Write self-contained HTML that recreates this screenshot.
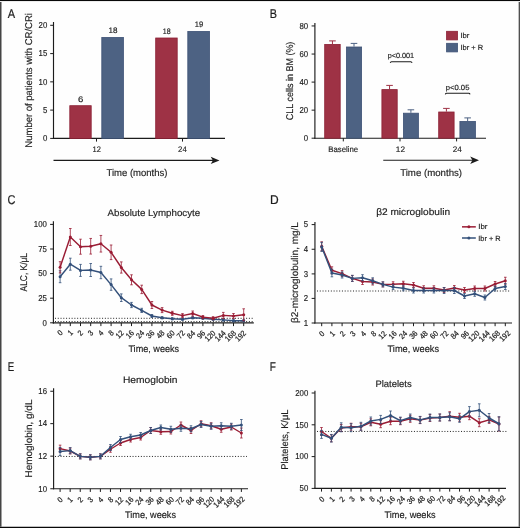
<!DOCTYPE html>
<html><head><meta charset="utf-8"><style>
html,body{margin:0;padding:0;background:#fff;}
body{width:520px;height:528px;overflow:hidden;}
svg{display:block;will-change:transform;}
svg text{text-rendering:geometricPrecision;font-family:"Liberation Sans",sans-serif;fill:#1e1e1e;stroke:#1e1e1e;stroke-width:0.16px;}
</style></head><body>
<svg width="520" height="528" viewBox="0 0 520 528">
<rect x="0" y="0" width="520" height="528" fill="#fefefe"/>
<text x="7.78" y="17.70" font-size="12.7" textLength="7.34" lengthAdjust="spacingAndGlyphs" style="stroke-width:0.22px">A</text>
<line x1="53.50" y1="22.00" x2="53.50" y2="139.00" stroke="#1c1c1c" stroke-width="1.15"/>
<line x1="50.20" y1="25.30" x2="53.50" y2="25.30" stroke="#1c1c1c" stroke-width="1.0"/>
<text x="47.30" y="28.10" font-size="8.6" text-anchor="end" textLength="8.70" lengthAdjust="spacingAndGlyphs">20</text>
<line x1="50.20" y1="53.60" x2="53.50" y2="53.60" stroke="#1c1c1c" stroke-width="1.0"/>
<text x="47.30" y="56.40" font-size="8.6" text-anchor="end" textLength="8.70" lengthAdjust="spacingAndGlyphs">15</text>
<line x1="50.20" y1="81.85" x2="53.50" y2="81.85" stroke="#1c1c1c" stroke-width="1.0"/>
<text x="47.30" y="84.65" font-size="8.6" text-anchor="end" textLength="8.70" lengthAdjust="spacingAndGlyphs">10</text>
<line x1="50.20" y1="110.10" x2="53.50" y2="110.10" stroke="#1c1c1c" stroke-width="1.0"/>
<text x="47.30" y="112.90" font-size="8.6" text-anchor="end" textLength="4.35" lengthAdjust="spacingAndGlyphs">5</text>
<line x1="50.20" y1="138.40" x2="53.50" y2="138.40" stroke="#1c1c1c" stroke-width="1.0"/>
<text x="47.30" y="141.20" font-size="8.6" text-anchor="end" textLength="4.35" lengthAdjust="spacingAndGlyphs">0</text>
<line x1="52.90" y1="138.40" x2="225.00" y2="138.40" stroke="#1c1c1c" stroke-width="1.15"/>
<line x1="96.50" y1="138.40" x2="96.50" y2="141.60" stroke="#1c1c1c" stroke-width="1.0"/>
<line x1="182.50" y1="138.40" x2="182.50" y2="141.60" stroke="#1c1c1c" stroke-width="1.0"/>
<rect x="69.80" y="105.70" width="21.40" height="32.70" fill="#9e3245" stroke="#8c2035" stroke-width="0.8"/>
<rect x="101.80" y="37.40" width="21.60" height="101.00" fill="#4d6283" stroke="#3e5276" stroke-width="0.8"/>
<rect x="155.70" y="38.00" width="21.50" height="100.40" fill="#9e3245" stroke="#8c2035" stroke-width="0.8"/>
<rect x="187.80" y="31.40" width="21.70" height="107.00" fill="#4d6283" stroke="#3e5276" stroke-width="0.8"/>
<text x="77.92" y="101.80" font-size="8" textLength="5.30" lengthAdjust="spacingAndGlyphs">6</text>
<text x="108.59" y="33.20" font-size="8" textLength="8.96" lengthAdjust="spacingAndGlyphs">18</text>
<text x="162.76" y="34.00" font-size="8" textLength="7.84" lengthAdjust="spacingAndGlyphs">18</text>
<text x="194.77" y="27.30" font-size="8" textLength="8.44" lengthAdjust="spacingAndGlyphs">19</text>
<text x="92.53" y="151.90" font-size="8" textLength="8.35" lengthAdjust="spacingAndGlyphs">12</text>
<text x="178.11" y="151.90" font-size="8" textLength="8.62" lengthAdjust="spacingAndGlyphs">24</text>
<line x1="53.50" y1="160.40" x2="214.50" y2="160.40" stroke="#1c1c1c" stroke-width="1.1"/>
<path d="M210.70,156.70 L219.50,160.40 L210.70,164.10 L212.90,160.40 Z" fill="#1c1c1c"/>
<text x="106.49" y="175.70" font-size="9.8" textLength="61.00" lengthAdjust="spacingAndGlyphs">Time (months)</text>
<text transform="translate(32.10,147.68) rotate(-90)" x="0" y="0" font-size="9.8" textLength="134.62" lengthAdjust="spacingAndGlyphs">Number of patients with CR/CRi</text>
<text x="269.76" y="17.60" font-size="12.7" textLength="7.21" lengthAdjust="spacingAndGlyphs" style="stroke-width:0.22px">B</text>
<line x1="314.90" y1="22.90" x2="314.90" y2="138.80" stroke="#1c1c1c" stroke-width="1.15"/>
<line x1="311.60" y1="25.95" x2="314.90" y2="25.95" stroke="#1c1c1c" stroke-width="1.0"/>
<text x="308.20" y="28.75" font-size="8.6" text-anchor="end" textLength="8.70" lengthAdjust="spacingAndGlyphs">80</text>
<line x1="311.60" y1="54.05" x2="314.90" y2="54.05" stroke="#1c1c1c" stroke-width="1.0"/>
<text x="308.20" y="56.85" font-size="8.6" text-anchor="end" textLength="8.70" lengthAdjust="spacingAndGlyphs">60</text>
<line x1="311.60" y1="82.10" x2="314.90" y2="82.10" stroke="#1c1c1c" stroke-width="1.0"/>
<text x="308.20" y="84.90" font-size="8.6" text-anchor="end" textLength="8.70" lengthAdjust="spacingAndGlyphs">40</text>
<line x1="311.60" y1="110.15" x2="314.90" y2="110.15" stroke="#1c1c1c" stroke-width="1.0"/>
<text x="308.20" y="112.95" font-size="8.6" text-anchor="end" textLength="8.70" lengthAdjust="spacingAndGlyphs">20</text>
<line x1="311.60" y1="138.20" x2="314.90" y2="138.20" stroke="#1c1c1c" stroke-width="1.0"/>
<text x="308.20" y="141.00" font-size="8.6" text-anchor="end" textLength="4.35" lengthAdjust="spacingAndGlyphs">0</text>
<line x1="314.30" y1="138.20" x2="486.00" y2="138.20" stroke="#1c1c1c" stroke-width="1.15"/>
<line x1="343.30" y1="138.20" x2="343.30" y2="141.40" stroke="#1c1c1c" stroke-width="1.0"/>
<line x1="400.00" y1="138.20" x2="400.00" y2="141.40" stroke="#1c1c1c" stroke-width="1.0"/>
<line x1="456.60" y1="138.20" x2="456.60" y2="141.40" stroke="#1c1c1c" stroke-width="1.0"/>
<line x1="332.45" y1="40.90" x2="332.45" y2="44.00" stroke="#9e3245" stroke-width="1.0"/>
<line x1="329.15" y1="40.90" x2="335.75" y2="40.90" stroke="#9e3245" stroke-width="1.0"/>
<rect x="324.70" y="44.40" width="15.50" height="93.80" fill="#9e3245" stroke="#8c2035" stroke-width="0.8"/>
<line x1="354.00" y1="43.40" x2="354.00" y2="46.60" stroke="#4d6283" stroke-width="1.0"/>
<line x1="350.70" y1="43.40" x2="357.30" y2="43.40" stroke="#4d6283" stroke-width="1.0"/>
<rect x="346.40" y="47.00" width="15.20" height="91.20" fill="#4d6283" stroke="#3e5276" stroke-width="0.8"/>
<line x1="389.55" y1="85.40" x2="389.55" y2="89.20" stroke="#9e3245" stroke-width="1.0"/>
<line x1="386.25" y1="85.40" x2="392.85" y2="85.40" stroke="#9e3245" stroke-width="1.0"/>
<rect x="381.90" y="89.60" width="15.30" height="48.60" fill="#9e3245" stroke="#8c2035" stroke-width="0.8"/>
<line x1="410.90" y1="109.80" x2="410.90" y2="112.80" stroke="#4d6283" stroke-width="1.0"/>
<line x1="407.60" y1="109.80" x2="414.20" y2="109.80" stroke="#4d6283" stroke-width="1.0"/>
<rect x="403.40" y="113.20" width="15.00" height="25.00" fill="#4d6283" stroke="#3e5276" stroke-width="0.8"/>
<line x1="446.40" y1="108.40" x2="446.40" y2="111.60" stroke="#9e3245" stroke-width="1.0"/>
<line x1="443.10" y1="108.40" x2="449.70" y2="108.40" stroke="#9e3245" stroke-width="1.0"/>
<rect x="438.70" y="112.00" width="15.40" height="26.20" fill="#9e3245" stroke="#8c2035" stroke-width="0.8"/>
<line x1="467.65" y1="117.90" x2="467.65" y2="121.00" stroke="#4d6283" stroke-width="1.0"/>
<line x1="464.35" y1="117.90" x2="470.95" y2="117.90" stroke="#4d6283" stroke-width="1.0"/>
<rect x="459.90" y="121.40" width="15.50" height="16.80" fill="#4d6283" stroke="#3e5276" stroke-width="0.8"/>
<text x="328.24" y="152.30" font-size="8" textLength="29.83" lengthAdjust="spacingAndGlyphs">Baseline</text>
<text x="395.82" y="152.20" font-size="8" textLength="9.14" lengthAdjust="spacingAndGlyphs">12</text>
<text x="452.69" y="152.20" font-size="8" textLength="9.05" lengthAdjust="spacingAndGlyphs">24</text>
<line x1="383.25" y1="160.20" x2="474.00" y2="160.20" stroke="#1c1c1c" stroke-width="1.1"/>
<path d="M470.20,156.50 L479.00,160.20 L470.20,163.90 L472.40,160.20 Z" fill="#1c1c1c"/>
<text x="400.18" y="175.60" font-size="9.8" textLength="61.91" lengthAdjust="spacingAndGlyphs">Time (months)</text>
<text transform="translate(293.40,120.15) rotate(-90)" x="0" y="0" font-size="9.8" textLength="78.51" lengthAdjust="spacingAndGlyphs">CLL cells in BM (%)</text>
<rect x="446.60" y="31.30" width="10.90" height="8.60" fill="#9e3245" stroke="#8c2035" stroke-width="0.8"/>
<rect x="446.60" y="43.30" width="10.90" height="8.60" fill="#4d6283" stroke="#3e5276" stroke-width="0.8"/>
<text x="460.49" y="38.00" font-size="7.4" textLength="8.93" lengthAdjust="spacingAndGlyphs">Ibr</text>
<text x="460.51" y="49.85" font-size="7.4" textLength="22.64" lengthAdjust="spacingAndGlyphs">Ibr + R</text>
<text x="387.63" y="58.20" font-size="7.4" textLength="26.52" lengthAdjust="spacingAndGlyphs">p&lt;0.001</text>
<path d="M390.3,62.8 Q390.5,61.7 391.5,61.7 L410.8,61.7 Q411.8,61.7 412,62.8" fill="none" stroke="#1c1c1c" stroke-width="1.1"/>
<text x="445.70" y="89.60" font-size="7.4" textLength="23.72" lengthAdjust="spacingAndGlyphs">p&lt;0.05</text>
<path d="M445.4,94.3 Q445.6,93.3 446.6,93.3 L468.8,93.3 Q469.8,93.3 470,94.3" fill="none" stroke="#1c1c1c" stroke-width="1.1"/>
<text x="7.54" y="203.85" font-size="12.7" textLength="7.98" lengthAdjust="spacingAndGlyphs" style="stroke-width:0.22px">C</text>
<text x="107.48" y="215.50" font-size="9.5" textLength="92.75" lengthAdjust="spacingAndGlyphs">Absolute Lymphocyte</text>
<line x1="53.40" y1="221.20" x2="53.40" y2="323.40" stroke="#1c1c1c" stroke-width="1.15"/>
<line x1="50.10" y1="224.40" x2="53.40" y2="224.40" stroke="#1c1c1c" stroke-width="1.0"/>
<text x="46.90" y="227.20" font-size="8.6" text-anchor="end" textLength="13.06" lengthAdjust="spacingAndGlyphs">100</text>
<line x1="50.10" y1="249.00" x2="53.40" y2="249.00" stroke="#1c1c1c" stroke-width="1.0"/>
<text x="46.90" y="251.80" font-size="8.6" text-anchor="end" textLength="8.70" lengthAdjust="spacingAndGlyphs">75</text>
<line x1="50.10" y1="273.60" x2="53.40" y2="273.60" stroke="#1c1c1c" stroke-width="1.0"/>
<text x="46.90" y="276.40" font-size="8.6" text-anchor="end" textLength="8.70" lengthAdjust="spacingAndGlyphs">50</text>
<line x1="50.10" y1="298.20" x2="53.40" y2="298.20" stroke="#1c1c1c" stroke-width="1.0"/>
<text x="46.90" y="301.00" font-size="8.6" text-anchor="end" textLength="8.70" lengthAdjust="spacingAndGlyphs">25</text>
<line x1="50.10" y1="322.80" x2="53.40" y2="322.80" stroke="#1c1c1c" stroke-width="1.0"/>
<text x="46.90" y="325.60" font-size="8.6" text-anchor="end" textLength="4.35" lengthAdjust="spacingAndGlyphs">0</text>
<line x1="55" y1="318.3" x2="253" y2="318.3" stroke="#222" stroke-width="1.0" stroke-dasharray="1,1.77"/>
<line x1="55" y1="321.6" x2="253" y2="321.6" stroke="#222" stroke-width="1.0" stroke-dasharray="1,1.77"/>
<line x1="52.80" y1="322.90" x2="253.80" y2="322.90" stroke="#1c1c1c" stroke-width="1.15"/>
<line x1="60.10" y1="322.90" x2="60.10" y2="326.10" stroke="#1c1c1c" stroke-width="1.0"/>
<line x1="70.30" y1="322.90" x2="70.30" y2="326.10" stroke="#1c1c1c" stroke-width="1.0"/>
<line x1="80.50" y1="322.90" x2="80.50" y2="326.10" stroke="#1c1c1c" stroke-width="1.0"/>
<line x1="90.70" y1="322.90" x2="90.70" y2="326.10" stroke="#1c1c1c" stroke-width="1.0"/>
<line x1="100.90" y1="322.90" x2="100.90" y2="326.10" stroke="#1c1c1c" stroke-width="1.0"/>
<line x1="111.10" y1="322.90" x2="111.10" y2="326.10" stroke="#1c1c1c" stroke-width="1.0"/>
<line x1="121.30" y1="322.90" x2="121.30" y2="326.10" stroke="#1c1c1c" stroke-width="1.0"/>
<line x1="131.50" y1="322.90" x2="131.50" y2="326.10" stroke="#1c1c1c" stroke-width="1.0"/>
<line x1="141.70" y1="322.90" x2="141.70" y2="326.10" stroke="#1c1c1c" stroke-width="1.0"/>
<line x1="151.90" y1="322.90" x2="151.90" y2="326.10" stroke="#1c1c1c" stroke-width="1.0"/>
<line x1="162.10" y1="322.90" x2="162.10" y2="326.10" stroke="#1c1c1c" stroke-width="1.0"/>
<line x1="172.30" y1="322.90" x2="172.30" y2="326.10" stroke="#1c1c1c" stroke-width="1.0"/>
<line x1="182.50" y1="322.90" x2="182.50" y2="326.10" stroke="#1c1c1c" stroke-width="1.0"/>
<line x1="192.70" y1="322.90" x2="192.70" y2="326.10" stroke="#1c1c1c" stroke-width="1.0"/>
<line x1="202.90" y1="322.90" x2="202.90" y2="326.10" stroke="#1c1c1c" stroke-width="1.0"/>
<line x1="213.10" y1="322.90" x2="213.10" y2="326.10" stroke="#1c1c1c" stroke-width="1.0"/>
<line x1="223.30" y1="322.90" x2="223.30" y2="326.10" stroke="#1c1c1c" stroke-width="1.0"/>
<line x1="233.50" y1="322.90" x2="233.50" y2="326.10" stroke="#1c1c1c" stroke-width="1.0"/>
<line x1="243.70" y1="322.90" x2="243.70" y2="326.10" stroke="#1c1c1c" stroke-width="1.0"/>
<path d="M60.10,270.70V282.70M58.80,270.70h2.6M58.80,282.70h2.6" stroke="#33507a" stroke-width="0.8" fill="none"/>
<path d="M70.30,258.20V270.20M69.00,258.20h2.6M69.00,270.20h2.6" stroke="#33507a" stroke-width="0.8" fill="none"/>
<path d="M80.50,264.40V276.40M79.20,264.40h2.6M79.20,276.40h2.6" stroke="#33507a" stroke-width="0.8" fill="none"/>
<path d="M90.70,263.50V276.50M89.40,263.50h2.6M89.40,276.50h2.6" stroke="#33507a" stroke-width="0.8" fill="none"/>
<path d="M100.90,266.30V278.70M99.60,266.30h2.6M99.60,278.70h2.6" stroke="#33507a" stroke-width="0.8" fill="none"/>
<path d="M111.10,278.90V290.30M109.80,278.90h2.6M109.80,290.30h2.6" stroke="#33507a" stroke-width="0.8" fill="none"/>
<path d="M121.30,293.90V301.50M120.00,293.90h2.6M120.00,301.50h2.6" stroke="#33507a" stroke-width="0.8" fill="none"/>
<path d="M131.50,302.40V307.60M130.20,302.40h2.6M130.20,307.60h2.6" stroke="#33507a" stroke-width="0.8" fill="none"/>
<path d="M141.70,308.30V312.50M140.40,308.30h2.6M140.40,312.50h2.6" stroke="#33507a" stroke-width="0.8" fill="none"/>
<path d="M151.90,314.50V317.50M150.60,314.50h2.6M150.60,317.50h2.6" stroke="#33507a" stroke-width="0.8" fill="none"/>
<path d="M162.10,316.75V318.75M160.80,316.75h2.6M160.80,318.75h2.6" stroke="#33507a" stroke-width="0.8" fill="none"/>
<path d="M172.30,317.80V319.80M171.00,317.80h2.6M171.00,319.80h2.6" stroke="#33507a" stroke-width="0.8" fill="none"/>
<path d="M182.50,318.20V320.20M181.20,318.20h2.6M181.20,320.20h2.6" stroke="#33507a" stroke-width="0.8" fill="none"/>
<path d="M192.70,316.75V318.75M191.40,316.75h2.6M191.40,318.75h2.6" stroke="#33507a" stroke-width="0.8" fill="none"/>
<path d="M202.90,317.20V319.20M201.60,317.20h2.6M201.60,319.20h2.6" stroke="#33507a" stroke-width="0.8" fill="none"/>
<path d="M213.10,318.20V320.20M211.80,318.20h2.6M211.80,320.20h2.6" stroke="#33507a" stroke-width="0.8" fill="none"/>
<path d="M223.30,318.90V320.90M222.00,318.90h2.6M222.00,320.90h2.6" stroke="#33507a" stroke-width="0.8" fill="none"/>
<path d="M233.50,319.70V321.70M232.20,319.70h2.6M232.20,321.70h2.6" stroke="#33507a" stroke-width="0.8" fill="none"/>
<path d="M243.70,319.70V321.70M242.40,319.70h2.6M242.40,321.70h2.6" stroke="#33507a" stroke-width="0.8" fill="none"/>
<polyline points="60.10,276.70 70.30,264.20 80.50,270.40 90.70,270.00 100.90,272.50 111.10,284.60 121.30,297.70 131.50,305.00 141.70,310.40 151.90,316.00 162.10,317.75 172.30,318.80 182.50,319.20 192.70,317.75 202.90,318.20 213.10,319.20 223.30,319.90 233.50,320.70 243.70,320.70" fill="none" stroke="#33507a" stroke-width="1.45" stroke-linejoin="round"/>
<circle cx="60.10" cy="276.70" r="1.5" fill="#33507a"/>
<circle cx="70.30" cy="264.20" r="1.5" fill="#33507a"/>
<circle cx="80.50" cy="270.40" r="1.5" fill="#33507a"/>
<circle cx="90.70" cy="270.00" r="1.5" fill="#33507a"/>
<circle cx="100.90" cy="272.50" r="1.5" fill="#33507a"/>
<circle cx="111.10" cy="284.60" r="1.5" fill="#33507a"/>
<circle cx="121.30" cy="297.70" r="1.5" fill="#33507a"/>
<circle cx="131.50" cy="305.00" r="1.5" fill="#33507a"/>
<circle cx="141.70" cy="310.40" r="1.5" fill="#33507a"/>
<circle cx="151.90" cy="316.00" r="1.5" fill="#33507a"/>
<circle cx="162.10" cy="317.75" r="1.5" fill="#33507a"/>
<circle cx="172.30" cy="318.80" r="1.5" fill="#33507a"/>
<circle cx="182.50" cy="319.20" r="1.5" fill="#33507a"/>
<circle cx="192.70" cy="317.75" r="1.5" fill="#33507a"/>
<circle cx="202.90" cy="318.20" r="1.5" fill="#33507a"/>
<circle cx="213.10" cy="319.20" r="1.5" fill="#33507a"/>
<circle cx="223.30" cy="319.90" r="1.5" fill="#33507a"/>
<circle cx="233.50" cy="320.70" r="1.5" fill="#33507a"/>
<circle cx="243.70" cy="320.70" r="1.5" fill="#33507a"/>
<path d="M60.10,261.70V272.90M58.80,261.70h2.6M58.80,272.90h2.6" stroke="#9a1c34" stroke-width="0.8" fill="none"/>
<path d="M70.30,228.50V245.50M69.00,228.50h2.6M69.00,245.50h2.6" stroke="#9a1c34" stroke-width="0.8" fill="none"/>
<path d="M80.50,239.20V254.20M79.20,239.20h2.6M79.20,254.20h2.6" stroke="#9a1c34" stroke-width="0.8" fill="none"/>
<path d="M90.70,238.45V254.05M89.40,238.45h2.6M89.40,254.05h2.6" stroke="#9a1c34" stroke-width="0.8" fill="none"/>
<path d="M100.90,235.45V252.05M99.60,235.45h2.6M99.60,252.05h2.6" stroke="#9a1c34" stroke-width="0.8" fill="none"/>
<path d="M111.10,245.00V259.60M109.80,245.00h2.6M109.80,259.60h2.6" stroke="#9a1c34" stroke-width="0.8" fill="none"/>
<path d="M121.30,261.90V273.10M120.00,261.90h2.6M120.00,273.10h2.6" stroke="#9a1c34" stroke-width="0.8" fill="none"/>
<path d="M131.50,274.80V284.80M130.20,274.80h2.6M130.20,284.80h2.6" stroke="#9a1c34" stroke-width="0.8" fill="none"/>
<path d="M141.70,285.20V293.60M140.40,285.20h2.6M140.40,293.60h2.6" stroke="#9a1c34" stroke-width="0.8" fill="none"/>
<path d="M151.90,301.50V308.50M150.60,301.50h2.6M150.60,308.50h2.6" stroke="#9a1c34" stroke-width="0.8" fill="none"/>
<path d="M162.10,307.60V312.60M160.80,307.60h2.6M160.80,312.60h2.6" stroke="#9a1c34" stroke-width="0.8" fill="none"/>
<path d="M172.30,311.30V315.30M171.00,311.30h2.6M171.00,315.30h2.6" stroke="#9a1c34" stroke-width="0.8" fill="none"/>
<path d="M182.50,313.60V317.60M181.20,313.60h2.6M181.20,317.60h2.6" stroke="#9a1c34" stroke-width="0.8" fill="none"/>
<path d="M192.70,311.00V316.00M191.40,311.00h2.6M191.40,316.00h2.6" stroke="#9a1c34" stroke-width="0.8" fill="none"/>
<path d="M202.90,315.60V318.60M201.60,315.60h2.6M201.60,318.60h2.6" stroke="#9a1c34" stroke-width="0.8" fill="none"/>
<path d="M213.10,316.70V319.70M211.80,316.70h2.6M211.80,319.70h2.6" stroke="#9a1c34" stroke-width="0.8" fill="none"/>
<path d="M223.30,312.40V318.40M222.00,312.40h2.6M222.00,318.40h2.6" stroke="#9a1c34" stroke-width="0.8" fill="none"/>
<path d="M233.50,313.50V318.50M232.20,313.50h2.6M232.20,318.50h2.6" stroke="#9a1c34" stroke-width="0.8" fill="none"/>
<path d="M243.70,308.80V320.80M242.40,308.80h2.6M242.40,320.80h2.6" stroke="#9a1c34" stroke-width="0.8" fill="none"/>
<polyline points="60.10,267.30 70.30,237.00 80.50,246.70 90.70,246.25 100.90,243.75 111.10,252.30 121.30,267.50 131.50,279.80 141.70,289.40 151.90,305.00 162.10,310.10 172.30,313.30 182.50,315.60 192.70,313.50 202.90,317.10 213.10,318.20 223.30,315.40 233.50,316.00 243.70,314.80" fill="none" stroke="#9a1c34" stroke-width="1.45" stroke-linejoin="round"/>
<circle cx="60.10" cy="267.30" r="1.5" fill="#9a1c34"/>
<circle cx="70.30" cy="237.00" r="1.5" fill="#9a1c34"/>
<circle cx="80.50" cy="246.70" r="1.5" fill="#9a1c34"/>
<circle cx="90.70" cy="246.25" r="1.5" fill="#9a1c34"/>
<circle cx="100.90" cy="243.75" r="1.5" fill="#9a1c34"/>
<circle cx="111.10" cy="252.30" r="1.5" fill="#9a1c34"/>
<circle cx="121.30" cy="267.50" r="1.5" fill="#9a1c34"/>
<circle cx="131.50" cy="279.80" r="1.5" fill="#9a1c34"/>
<circle cx="141.70" cy="289.40" r="1.5" fill="#9a1c34"/>
<circle cx="151.90" cy="305.00" r="1.5" fill="#9a1c34"/>
<circle cx="162.10" cy="310.10" r="1.5" fill="#9a1c34"/>
<circle cx="172.30" cy="313.30" r="1.5" fill="#9a1c34"/>
<circle cx="182.50" cy="315.60" r="1.5" fill="#9a1c34"/>
<circle cx="192.70" cy="313.50" r="1.5" fill="#9a1c34"/>
<circle cx="202.90" cy="317.10" r="1.5" fill="#9a1c34"/>
<circle cx="213.10" cy="318.20" r="1.5" fill="#9a1c34"/>
<circle cx="223.30" cy="315.40" r="1.5" fill="#9a1c34"/>
<circle cx="233.50" cy="316.00" r="1.5" fill="#9a1c34"/>
<circle cx="243.70" cy="314.80" r="1.5" fill="#9a1c34"/>
<text transform="translate(63.25,333.30) rotate(-45)" x="0" y="0" font-size="7.9" text-anchor="end" textLength="3.95" lengthAdjust="spacingAndGlyphs" style="stroke-width:0.2px">0</text>
<text transform="translate(73.44,333.32) rotate(-45)" x="0" y="0" font-size="7.9" text-anchor="end" textLength="3.95" lengthAdjust="spacingAndGlyphs" style="stroke-width:0.2px">1</text>
<text transform="translate(83.63,333.34) rotate(-45)" x="0" y="0" font-size="7.9" text-anchor="end" textLength="3.95" lengthAdjust="spacingAndGlyphs" style="stroke-width:0.2px">2</text>
<text transform="translate(93.82,333.37) rotate(-45)" x="0" y="0" font-size="7.9" text-anchor="end" textLength="3.95" lengthAdjust="spacingAndGlyphs" style="stroke-width:0.2px">3</text>
<text transform="translate(104.01,333.39) rotate(-45)" x="0" y="0" font-size="7.9" text-anchor="end" textLength="3.95" lengthAdjust="spacingAndGlyphs" style="stroke-width:0.2px">4</text>
<text transform="translate(114.19,333.41) rotate(-45)" x="0" y="0" font-size="7.9" text-anchor="end" textLength="3.95" lengthAdjust="spacingAndGlyphs" style="stroke-width:0.2px">8</text>
<text transform="translate(124.38,333.43) rotate(-45)" x="0" y="0" font-size="7.9" text-anchor="end" textLength="7.91" lengthAdjust="spacingAndGlyphs" style="stroke-width:0.2px">12</text>
<text transform="translate(134.57,333.45) rotate(-45)" x="0" y="0" font-size="7.9" text-anchor="end" textLength="7.91" lengthAdjust="spacingAndGlyphs" style="stroke-width:0.2px">16</text>
<text transform="translate(144.76,333.48) rotate(-45)" x="0" y="0" font-size="7.9" text-anchor="end" textLength="7.91" lengthAdjust="spacingAndGlyphs" style="stroke-width:0.2px">24</text>
<text transform="translate(154.95,333.50) rotate(-45)" x="0" y="0" font-size="7.9" text-anchor="end" textLength="7.91" lengthAdjust="spacingAndGlyphs" style="stroke-width:0.2px">36</text>
<text transform="translate(165.14,333.52) rotate(-45)" x="0" y="0" font-size="7.9" text-anchor="end" textLength="7.91" lengthAdjust="spacingAndGlyphs" style="stroke-width:0.2px">48</text>
<text transform="translate(175.33,333.54) rotate(-45)" x="0" y="0" font-size="7.9" text-anchor="end" textLength="7.91" lengthAdjust="spacingAndGlyphs" style="stroke-width:0.2px">60</text>
<text transform="translate(185.52,333.57) rotate(-45)" x="0" y="0" font-size="7.9" text-anchor="end" textLength="7.91" lengthAdjust="spacingAndGlyphs" style="stroke-width:0.2px">72</text>
<text transform="translate(195.71,333.59) rotate(-45)" x="0" y="0" font-size="7.9" text-anchor="end" textLength="7.91" lengthAdjust="spacingAndGlyphs" style="stroke-width:0.2px">84</text>
<text transform="translate(205.89,333.61) rotate(-45)" x="0" y="0" font-size="7.9" text-anchor="end" textLength="7.91" lengthAdjust="spacingAndGlyphs" style="stroke-width:0.2px">96</text>
<text transform="translate(216.08,333.63) rotate(-45)" x="0" y="0" font-size="7.9" text-anchor="end" textLength="11.86" lengthAdjust="spacingAndGlyphs" style="stroke-width:0.2px">120</text>
<text transform="translate(226.27,333.65) rotate(-45)" x="0" y="0" font-size="7.9" text-anchor="end" textLength="11.86" lengthAdjust="spacingAndGlyphs" style="stroke-width:0.2px">144</text>
<text transform="translate(236.46,333.68) rotate(-45)" x="0" y="0" font-size="7.9" text-anchor="end" textLength="11.86" lengthAdjust="spacingAndGlyphs" style="stroke-width:0.2px">168</text>
<text transform="translate(246.65,333.70) rotate(-45)" x="0" y="0" font-size="7.9" text-anchor="end" textLength="11.86" lengthAdjust="spacingAndGlyphs" style="stroke-width:0.2px">192</text>
<text x="128.40" y="352.10" font-size="9.6" textLength="50.73" lengthAdjust="spacingAndGlyphs">Time, weeks</text>
<text transform="translate(27.00,291.42) rotate(-90)" x="0" y="0" font-size="9.8" textLength="38.39" lengthAdjust="spacingAndGlyphs">ALC, K/μL</text>
<text x="269.92" y="203.70" font-size="12.7" textLength="8.66" lengthAdjust="spacingAndGlyphs" style="stroke-width:0.22px">D</text>
<text x="376.20" y="215.20" font-size="9.5" textLength="73.86" lengthAdjust="spacingAndGlyphs">β2 microglobulin</text>
<line x1="314.95" y1="222.00" x2="314.95" y2="323.60" stroke="#1c1c1c" stroke-width="1.15"/>
<line x1="311.65" y1="224.60" x2="314.95" y2="224.60" stroke="#1c1c1c" stroke-width="1.0"/>
<text x="308.10" y="227.40" font-size="8.6" text-anchor="end" textLength="4.35" lengthAdjust="spacingAndGlyphs">5</text>
<line x1="311.65" y1="249.25" x2="314.95" y2="249.25" stroke="#1c1c1c" stroke-width="1.0"/>
<text x="308.10" y="252.05" font-size="8.6" text-anchor="end" textLength="4.35" lengthAdjust="spacingAndGlyphs">4</text>
<line x1="311.65" y1="273.90" x2="314.95" y2="273.90" stroke="#1c1c1c" stroke-width="1.0"/>
<text x="308.10" y="276.70" font-size="8.6" text-anchor="end" textLength="4.35" lengthAdjust="spacingAndGlyphs">3</text>
<line x1="311.65" y1="298.40" x2="314.95" y2="298.40" stroke="#1c1c1c" stroke-width="1.0"/>
<text x="308.10" y="301.20" font-size="8.6" text-anchor="end" textLength="4.35" lengthAdjust="spacingAndGlyphs">2</text>
<line x1="311.65" y1="323.00" x2="314.95" y2="323.00" stroke="#1c1c1c" stroke-width="1.0"/>
<text x="308.10" y="325.80" font-size="8.6" text-anchor="end" textLength="4.35" lengthAdjust="spacingAndGlyphs">1</text>
<line x1="317" y1="291.0" x2="510" y2="291.0" stroke="#222" stroke-width="1.0" stroke-dasharray="1,1.77"/>
<line x1="314.35" y1="323.00" x2="512.00" y2="323.00" stroke="#1c1c1c" stroke-width="1.15"/>
<line x1="321.70" y1="323.00" x2="321.70" y2="326.20" stroke="#1c1c1c" stroke-width="1.0"/>
<line x1="331.90" y1="323.00" x2="331.90" y2="326.20" stroke="#1c1c1c" stroke-width="1.0"/>
<line x1="342.10" y1="323.00" x2="342.10" y2="326.20" stroke="#1c1c1c" stroke-width="1.0"/>
<line x1="352.30" y1="323.00" x2="352.30" y2="326.20" stroke="#1c1c1c" stroke-width="1.0"/>
<line x1="362.50" y1="323.00" x2="362.50" y2="326.20" stroke="#1c1c1c" stroke-width="1.0"/>
<line x1="372.70" y1="323.00" x2="372.70" y2="326.20" stroke="#1c1c1c" stroke-width="1.0"/>
<line x1="382.90" y1="323.00" x2="382.90" y2="326.20" stroke="#1c1c1c" stroke-width="1.0"/>
<line x1="393.10" y1="323.00" x2="393.10" y2="326.20" stroke="#1c1c1c" stroke-width="1.0"/>
<line x1="403.30" y1="323.00" x2="403.30" y2="326.20" stroke="#1c1c1c" stroke-width="1.0"/>
<line x1="413.50" y1="323.00" x2="413.50" y2="326.20" stroke="#1c1c1c" stroke-width="1.0"/>
<line x1="423.70" y1="323.00" x2="423.70" y2="326.20" stroke="#1c1c1c" stroke-width="1.0"/>
<line x1="433.90" y1="323.00" x2="433.90" y2="326.20" stroke="#1c1c1c" stroke-width="1.0"/>
<line x1="444.10" y1="323.00" x2="444.10" y2="326.20" stroke="#1c1c1c" stroke-width="1.0"/>
<line x1="454.30" y1="323.00" x2="454.30" y2="326.20" stroke="#1c1c1c" stroke-width="1.0"/>
<line x1="464.50" y1="323.00" x2="464.50" y2="326.20" stroke="#1c1c1c" stroke-width="1.0"/>
<line x1="474.70" y1="323.00" x2="474.70" y2="326.20" stroke="#1c1c1c" stroke-width="1.0"/>
<line x1="484.90" y1="323.00" x2="484.90" y2="326.20" stroke="#1c1c1c" stroke-width="1.0"/>
<line x1="495.10" y1="323.00" x2="495.10" y2="326.20" stroke="#1c1c1c" stroke-width="1.0"/>
<line x1="505.30" y1="323.00" x2="505.30" y2="326.20" stroke="#1c1c1c" stroke-width="1.0"/>
<path d="M321.70,241.80V250.80M320.40,241.80h2.6M320.40,250.80h2.6" stroke="#9a1c34" stroke-width="0.8" fill="none"/>
<path d="M331.90,266.80V273.80M330.60,266.80h2.6M330.60,273.80h2.6" stroke="#9a1c34" stroke-width="0.8" fill="none"/>
<path d="M342.10,270.60V276.60M340.80,270.60h2.6M340.80,276.60h2.6" stroke="#9a1c34" stroke-width="0.8" fill="none"/>
<path d="M352.30,275.40V281.40M351.00,275.40h2.6M351.00,281.40h2.6" stroke="#9a1c34" stroke-width="0.8" fill="none"/>
<path d="M362.50,278.50V284.50M361.20,278.50h2.6M361.20,284.50h2.6" stroke="#9a1c34" stroke-width="0.8" fill="none"/>
<path d="M372.70,279.00V285.00M371.40,279.00h2.6M371.40,285.00h2.6" stroke="#9a1c34" stroke-width="0.8" fill="none"/>
<path d="M382.90,281.90V286.90M381.60,281.90h2.6M381.60,286.90h2.6" stroke="#9a1c34" stroke-width="0.8" fill="none"/>
<path d="M393.10,281.75V286.75M391.80,281.75h2.6M391.80,286.75h2.6" stroke="#9a1c34" stroke-width="0.8" fill="none"/>
<path d="M403.30,281.25V286.25M402.00,281.25h2.6M402.00,286.25h2.6" stroke="#9a1c34" stroke-width="0.8" fill="none"/>
<path d="M413.50,282.50V287.50M412.20,282.50h2.6M412.20,287.50h2.6" stroke="#9a1c34" stroke-width="0.8" fill="none"/>
<path d="M423.70,285.75V290.75M422.40,285.75h2.6M422.40,290.75h2.6" stroke="#9a1c34" stroke-width="0.8" fill="none"/>
<path d="M433.90,285.75V290.75M432.60,285.75h2.6M432.60,290.75h2.6" stroke="#9a1c34" stroke-width="0.8" fill="none"/>
<path d="M444.10,287.50V292.50M442.80,287.50h2.6M442.80,292.50h2.6" stroke="#9a1c34" stroke-width="0.8" fill="none"/>
<path d="M454.30,285.50V290.50M453.00,285.50h2.6M453.00,290.50h2.6" stroke="#9a1c34" stroke-width="0.8" fill="none"/>
<path d="M464.50,287.50V292.50M463.20,287.50h2.6M463.20,292.50h2.6" stroke="#9a1c34" stroke-width="0.8" fill="none"/>
<path d="M474.70,286.00V291.00M473.40,286.00h2.6M473.40,291.00h2.6" stroke="#9a1c34" stroke-width="0.8" fill="none"/>
<path d="M484.90,286.00V291.00M483.60,286.00h2.6M483.60,291.00h2.6" stroke="#9a1c34" stroke-width="0.8" fill="none"/>
<path d="M495.10,281.50V286.50M493.80,281.50h2.6M493.80,286.50h2.6" stroke="#9a1c34" stroke-width="0.8" fill="none"/>
<path d="M505.30,277.25V284.25M504.00,277.25h2.6M504.00,284.25h2.6" stroke="#9a1c34" stroke-width="0.8" fill="none"/>
<polyline points="321.70,246.30 331.90,270.30 342.10,273.60 352.30,278.40 362.50,281.50 372.70,282.00 382.90,284.40 393.10,284.25 403.30,283.75 413.50,285.00 423.70,288.25 433.90,288.25 444.10,290.00 454.30,288.00 464.50,290.00 474.70,288.50 484.90,288.50 495.10,284.00 505.30,280.75" fill="none" stroke="#9a1c34" stroke-width="1.45" stroke-linejoin="round"/>
<circle cx="321.70" cy="246.30" r="1.5" fill="#9a1c34"/>
<circle cx="331.90" cy="270.30" r="1.5" fill="#9a1c34"/>
<circle cx="342.10" cy="273.60" r="1.5" fill="#9a1c34"/>
<circle cx="352.30" cy="278.40" r="1.5" fill="#9a1c34"/>
<circle cx="362.50" cy="281.50" r="1.5" fill="#9a1c34"/>
<circle cx="372.70" cy="282.00" r="1.5" fill="#9a1c34"/>
<circle cx="382.90" cy="284.40" r="1.5" fill="#9a1c34"/>
<circle cx="393.10" cy="284.25" r="1.5" fill="#9a1c34"/>
<circle cx="403.30" cy="283.75" r="1.5" fill="#9a1c34"/>
<circle cx="413.50" cy="285.00" r="1.5" fill="#9a1c34"/>
<circle cx="423.70" cy="288.25" r="1.5" fill="#9a1c34"/>
<circle cx="433.90" cy="288.25" r="1.5" fill="#9a1c34"/>
<circle cx="444.10" cy="290.00" r="1.5" fill="#9a1c34"/>
<circle cx="454.30" cy="288.00" r="1.5" fill="#9a1c34"/>
<circle cx="464.50" cy="290.00" r="1.5" fill="#9a1c34"/>
<circle cx="474.70" cy="288.50" r="1.5" fill="#9a1c34"/>
<circle cx="484.90" cy="288.50" r="1.5" fill="#9a1c34"/>
<circle cx="495.10" cy="284.00" r="1.5" fill="#9a1c34"/>
<circle cx="505.30" cy="280.75" r="1.5" fill="#9a1c34"/>
<path d="M321.70,242.40V251.40M320.40,242.40h2.6M320.40,251.40h2.6" stroke="#33507a" stroke-width="0.8" fill="none"/>
<path d="M331.90,269.20V276.80M330.60,269.20h2.6M330.60,276.80h2.6" stroke="#33507a" stroke-width="0.8" fill="none"/>
<path d="M342.10,272.00V278.00M340.80,272.00h2.6M340.80,278.00h2.6" stroke="#33507a" stroke-width="0.8" fill="none"/>
<path d="M352.30,275.40V281.40M351.00,275.40h2.6M351.00,281.40h2.6" stroke="#33507a" stroke-width="0.8" fill="none"/>
<path d="M362.50,274.70V280.70M361.20,274.70h2.6M361.20,280.70h2.6" stroke="#33507a" stroke-width="0.8" fill="none"/>
<path d="M372.70,277.80V283.80M371.40,277.80h2.6M371.40,283.80h2.6" stroke="#33507a" stroke-width="0.8" fill="none"/>
<path d="M382.90,281.90V286.90M381.60,281.90h2.6M381.60,286.90h2.6" stroke="#33507a" stroke-width="0.8" fill="none"/>
<path d="M393.10,284.60V289.60M391.80,284.60h2.6M391.80,289.60h2.6" stroke="#33507a" stroke-width="0.8" fill="none"/>
<path d="M403.30,285.80V290.80M402.00,285.80h2.6M402.00,290.80h2.6" stroke="#33507a" stroke-width="0.8" fill="none"/>
<path d="M413.50,288.00V293.00M412.20,288.00h2.6M412.20,293.00h2.6" stroke="#33507a" stroke-width="0.8" fill="none"/>
<path d="M423.70,288.00V293.00M422.40,288.00h2.6M422.40,293.00h2.6" stroke="#33507a" stroke-width="0.8" fill="none"/>
<path d="M433.90,288.00V293.00M432.60,288.00h2.6M432.60,293.00h2.6" stroke="#33507a" stroke-width="0.8" fill="none"/>
<path d="M444.10,287.50V293.50M442.80,287.50h2.6M442.80,293.50h2.6" stroke="#33507a" stroke-width="0.8" fill="none"/>
<path d="M454.30,287.50V293.50M453.00,287.50h2.6M453.00,293.50h2.6" stroke="#33507a" stroke-width="0.8" fill="none"/>
<path d="M464.50,293.50V298.50M463.20,293.50h2.6M463.20,298.50h2.6" stroke="#33507a" stroke-width="0.8" fill="none"/>
<path d="M474.70,291.25V296.25M473.40,291.25h2.6M473.40,296.25h2.6" stroke="#33507a" stroke-width="0.8" fill="none"/>
<path d="M484.90,295.00V300.00M483.60,295.00h2.6M483.60,300.00h2.6" stroke="#33507a" stroke-width="0.8" fill="none"/>
<path d="M495.10,286.00V291.00M493.80,286.00h2.6M493.80,291.00h2.6" stroke="#33507a" stroke-width="0.8" fill="none"/>
<path d="M505.30,283.50V289.50M504.00,283.50h2.6M504.00,289.50h2.6" stroke="#33507a" stroke-width="0.8" fill="none"/>
<polyline points="321.70,246.90 331.90,273.00 342.10,275.00 352.30,278.40 362.50,277.70 372.70,280.80 382.90,284.40 393.10,287.10 403.30,288.30 413.50,290.50 423.70,290.50 433.90,290.50 444.10,290.50 454.30,290.50 464.50,296.00 474.70,293.75 484.90,297.50 495.10,288.50 505.30,286.50" fill="none" stroke="#33507a" stroke-width="1.45" stroke-linejoin="round"/>
<circle cx="321.70" cy="246.90" r="1.5" fill="#33507a"/>
<circle cx="331.90" cy="273.00" r="1.5" fill="#33507a"/>
<circle cx="342.10" cy="275.00" r="1.5" fill="#33507a"/>
<circle cx="352.30" cy="278.40" r="1.5" fill="#33507a"/>
<circle cx="362.50" cy="277.70" r="1.5" fill="#33507a"/>
<circle cx="372.70" cy="280.80" r="1.5" fill="#33507a"/>
<circle cx="382.90" cy="284.40" r="1.5" fill="#33507a"/>
<circle cx="393.10" cy="287.10" r="1.5" fill="#33507a"/>
<circle cx="403.30" cy="288.30" r="1.5" fill="#33507a"/>
<circle cx="413.50" cy="290.50" r="1.5" fill="#33507a"/>
<circle cx="423.70" cy="290.50" r="1.5" fill="#33507a"/>
<circle cx="433.90" cy="290.50" r="1.5" fill="#33507a"/>
<circle cx="444.10" cy="290.50" r="1.5" fill="#33507a"/>
<circle cx="454.30" cy="290.50" r="1.5" fill="#33507a"/>
<circle cx="464.50" cy="296.00" r="1.5" fill="#33507a"/>
<circle cx="474.70" cy="293.75" r="1.5" fill="#33507a"/>
<circle cx="484.90" cy="297.50" r="1.5" fill="#33507a"/>
<circle cx="495.10" cy="288.50" r="1.5" fill="#33507a"/>
<circle cx="505.30" cy="286.50" r="1.5" fill="#33507a"/>
<text transform="translate(325.15,334.30) rotate(-45)" x="0" y="0" font-size="7.9" text-anchor="end" textLength="3.95" lengthAdjust="spacingAndGlyphs" style="stroke-width:0.2px">0</text>
<text transform="translate(335.47,334.27) rotate(-45)" x="0" y="0" font-size="7.9" text-anchor="end" textLength="3.95" lengthAdjust="spacingAndGlyphs" style="stroke-width:0.2px">1</text>
<text transform="translate(345.79,334.23) rotate(-45)" x="0" y="0" font-size="7.9" text-anchor="end" textLength="3.95" lengthAdjust="spacingAndGlyphs" style="stroke-width:0.2px">2</text>
<text transform="translate(356.12,334.20) rotate(-45)" x="0" y="0" font-size="7.9" text-anchor="end" textLength="3.95" lengthAdjust="spacingAndGlyphs" style="stroke-width:0.2px">3</text>
<text transform="translate(366.44,334.17) rotate(-45)" x="0" y="0" font-size="7.9" text-anchor="end" textLength="3.95" lengthAdjust="spacingAndGlyphs" style="stroke-width:0.2px">4</text>
<text transform="translate(376.76,334.13) rotate(-45)" x="0" y="0" font-size="7.9" text-anchor="end" textLength="3.95" lengthAdjust="spacingAndGlyphs" style="stroke-width:0.2px">8</text>
<text transform="translate(387.08,334.10) rotate(-45)" x="0" y="0" font-size="7.9" text-anchor="end" textLength="7.91" lengthAdjust="spacingAndGlyphs" style="stroke-width:0.2px">12</text>
<text transform="translate(397.41,334.07) rotate(-45)" x="0" y="0" font-size="7.9" text-anchor="end" textLength="7.91" lengthAdjust="spacingAndGlyphs" style="stroke-width:0.2px">16</text>
<text transform="translate(407.73,334.03) rotate(-45)" x="0" y="0" font-size="7.9" text-anchor="end" textLength="7.91" lengthAdjust="spacingAndGlyphs" style="stroke-width:0.2px">24</text>
<text transform="translate(418.05,334.00) rotate(-45)" x="0" y="0" font-size="7.9" text-anchor="end" textLength="7.91" lengthAdjust="spacingAndGlyphs" style="stroke-width:0.2px">36</text>
<text transform="translate(428.37,333.97) rotate(-45)" x="0" y="0" font-size="7.9" text-anchor="end" textLength="7.91" lengthAdjust="spacingAndGlyphs" style="stroke-width:0.2px">48</text>
<text transform="translate(438.69,333.93) rotate(-45)" x="0" y="0" font-size="7.9" text-anchor="end" textLength="7.91" lengthAdjust="spacingAndGlyphs" style="stroke-width:0.2px">60</text>
<text transform="translate(449.02,333.90) rotate(-45)" x="0" y="0" font-size="7.9" text-anchor="end" textLength="7.91" lengthAdjust="spacingAndGlyphs" style="stroke-width:0.2px">72</text>
<text transform="translate(459.34,333.87) rotate(-45)" x="0" y="0" font-size="7.9" text-anchor="end" textLength="7.91" lengthAdjust="spacingAndGlyphs" style="stroke-width:0.2px">84</text>
<text transform="translate(469.66,333.83) rotate(-45)" x="0" y="0" font-size="7.9" text-anchor="end" textLength="7.91" lengthAdjust="spacingAndGlyphs" style="stroke-width:0.2px">96</text>
<text transform="translate(479.98,333.80) rotate(-45)" x="0" y="0" font-size="7.9" text-anchor="end" textLength="11.86" lengthAdjust="spacingAndGlyphs" style="stroke-width:0.2px">120</text>
<text transform="translate(490.31,333.77) rotate(-45)" x="0" y="0" font-size="7.9" text-anchor="end" textLength="11.86" lengthAdjust="spacingAndGlyphs" style="stroke-width:0.2px">144</text>
<text transform="translate(500.63,333.73) rotate(-45)" x="0" y="0" font-size="7.9" text-anchor="end" textLength="11.86" lengthAdjust="spacingAndGlyphs" style="stroke-width:0.2px">168</text>
<text transform="translate(510.95,333.70) rotate(-45)" x="0" y="0" font-size="7.9" text-anchor="end" textLength="11.86" lengthAdjust="spacingAndGlyphs" style="stroke-width:0.2px">192</text>
<text x="387.59" y="352.20" font-size="9.6" textLength="51.44" lengthAdjust="spacingAndGlyphs">Time, weeks</text>
<text transform="translate(297.90,322.89) rotate(-90)" x="0" y="0" font-size="9.8" textLength="100.62" lengthAdjust="spacingAndGlyphs">β2-microglobulin, mg/L</text>
<line x1="462.00" y1="226.85" x2="475.80" y2="226.85" stroke="#9a1c34" stroke-width="1.5"/>
<circle cx="468.9" cy="226.85" r="1.5" fill="#9a1c34"/>
<line x1="462.00" y1="238.00" x2="475.80" y2="238.00" stroke="#33507a" stroke-width="1.5"/>
<circle cx="468.9" cy="238" r="1.5" fill="#33507a"/>
<text x="478.28" y="229.35" font-size="7.4" textLength="9.15" lengthAdjust="spacingAndGlyphs">Ibr</text>
<text x="478.32" y="240.60" font-size="7.4" textLength="22.32" lengthAdjust="spacingAndGlyphs">Ibr + R</text>
<text x="7.86" y="371.15" font-size="12.7" textLength="6.40" lengthAdjust="spacingAndGlyphs" style="stroke-width:0.22px">E</text>
<text x="122.96" y="382.70" font-size="9.5" textLength="54.60" lengthAdjust="spacingAndGlyphs">Hemoglobin</text>
<line x1="53.60" y1="388.25" x2="53.60" y2="489.35" stroke="#1c1c1c" stroke-width="1.15"/>
<line x1="50.30" y1="391.25" x2="53.60" y2="391.25" stroke="#1c1c1c" stroke-width="1.0"/>
<text x="47.00" y="394.05" font-size="8.6" text-anchor="end" textLength="8.70" lengthAdjust="spacingAndGlyphs">16</text>
<line x1="50.30" y1="423.65" x2="53.60" y2="423.65" stroke="#1c1c1c" stroke-width="1.0"/>
<text x="47.00" y="426.45" font-size="8.6" text-anchor="end" textLength="8.70" lengthAdjust="spacingAndGlyphs">14</text>
<line x1="50.30" y1="456.15" x2="53.60" y2="456.15" stroke="#1c1c1c" stroke-width="1.0"/>
<text x="47.00" y="458.95" font-size="8.6" text-anchor="end" textLength="8.70" lengthAdjust="spacingAndGlyphs">12</text>
<line x1="50.30" y1="488.75" x2="53.60" y2="488.75" stroke="#1c1c1c" stroke-width="1.0"/>
<text x="47.00" y="491.55" font-size="8.6" text-anchor="end" textLength="8.70" lengthAdjust="spacingAndGlyphs">10</text>
<line x1="55" y1="456.45" x2="247" y2="456.45" stroke="#222" stroke-width="1.0" stroke-dasharray="1,1.77"/>
<line x1="53.05" y1="488.75" x2="248.00" y2="488.75" stroke="#1c1c1c" stroke-width="1.15"/>
<line x1="60.10" y1="488.75" x2="60.10" y2="491.95" stroke="#1c1c1c" stroke-width="1.0"/>
<line x1="70.17" y1="488.75" x2="70.17" y2="491.95" stroke="#1c1c1c" stroke-width="1.0"/>
<line x1="80.24" y1="488.75" x2="80.24" y2="491.95" stroke="#1c1c1c" stroke-width="1.0"/>
<line x1="90.31" y1="488.75" x2="90.31" y2="491.95" stroke="#1c1c1c" stroke-width="1.0"/>
<line x1="100.38" y1="488.75" x2="100.38" y2="491.95" stroke="#1c1c1c" stroke-width="1.0"/>
<line x1="110.45" y1="488.75" x2="110.45" y2="491.95" stroke="#1c1c1c" stroke-width="1.0"/>
<line x1="120.52" y1="488.75" x2="120.52" y2="491.95" stroke="#1c1c1c" stroke-width="1.0"/>
<line x1="130.59" y1="488.75" x2="130.59" y2="491.95" stroke="#1c1c1c" stroke-width="1.0"/>
<line x1="140.66" y1="488.75" x2="140.66" y2="491.95" stroke="#1c1c1c" stroke-width="1.0"/>
<line x1="150.73" y1="488.75" x2="150.73" y2="491.95" stroke="#1c1c1c" stroke-width="1.0"/>
<line x1="160.80" y1="488.75" x2="160.80" y2="491.95" stroke="#1c1c1c" stroke-width="1.0"/>
<line x1="170.87" y1="488.75" x2="170.87" y2="491.95" stroke="#1c1c1c" stroke-width="1.0"/>
<line x1="180.94" y1="488.75" x2="180.94" y2="491.95" stroke="#1c1c1c" stroke-width="1.0"/>
<line x1="191.01" y1="488.75" x2="191.01" y2="491.95" stroke="#1c1c1c" stroke-width="1.0"/>
<line x1="201.08" y1="488.75" x2="201.08" y2="491.95" stroke="#1c1c1c" stroke-width="1.0"/>
<line x1="211.15" y1="488.75" x2="211.15" y2="491.95" stroke="#1c1c1c" stroke-width="1.0"/>
<line x1="221.22" y1="488.75" x2="221.22" y2="491.95" stroke="#1c1c1c" stroke-width="1.0"/>
<line x1="231.29" y1="488.75" x2="231.29" y2="491.95" stroke="#1c1c1c" stroke-width="1.0"/>
<line x1="241.36" y1="488.75" x2="241.36" y2="491.95" stroke="#1c1c1c" stroke-width="1.0"/>
<path d="M60.10,445.15V452.15M58.80,445.15h2.6M58.80,452.15h2.6" stroke="#9a1c34" stroke-width="0.8" fill="none"/>
<path d="M70.17,448.00V454.00M68.87,448.00h2.6M68.87,454.00h2.6" stroke="#9a1c34" stroke-width="0.8" fill="none"/>
<path d="M80.24,453.85V458.85M78.94,453.85h2.6M78.94,458.85h2.6" stroke="#9a1c34" stroke-width="0.8" fill="none"/>
<path d="M90.31,454.80V459.80M89.01,454.80h2.6M89.01,459.80h2.6" stroke="#9a1c34" stroke-width="0.8" fill="none"/>
<path d="M100.38,453.85V458.85M99.08,453.85h2.6M99.08,458.85h2.6" stroke="#9a1c34" stroke-width="0.8" fill="none"/>
<path d="M110.45,446.25V452.25M109.15,446.25h2.6M109.15,452.25h2.6" stroke="#9a1c34" stroke-width="0.8" fill="none"/>
<path d="M120.52,440.50V445.50M119.22,440.50h2.6M119.22,445.50h2.6" stroke="#9a1c34" stroke-width="0.8" fill="none"/>
<path d="M130.59,437.00V442.00M129.29,437.00h2.6M129.29,442.00h2.6" stroke="#9a1c34" stroke-width="0.8" fill="none"/>
<path d="M140.66,435.00V440.00M139.36,435.00h2.6M139.36,440.00h2.6" stroke="#9a1c34" stroke-width="0.8" fill="none"/>
<path d="M150.73,427.50V433.50M149.43,427.50h2.6M149.43,433.50h2.6" stroke="#9a1c34" stroke-width="0.8" fill="none"/>
<path d="M160.80,429.25V434.25M159.50,429.25h2.6M159.50,434.25h2.6" stroke="#9a1c34" stroke-width="0.8" fill="none"/>
<path d="M170.87,429.00V434.00M169.57,429.00h2.6M169.57,434.00h2.6" stroke="#9a1c34" stroke-width="0.8" fill="none"/>
<path d="M180.94,422.00V428.00M179.64,422.00h2.6M179.64,428.00h2.6" stroke="#9a1c34" stroke-width="0.8" fill="none"/>
<path d="M191.01,427.50V433.50M189.71,427.50h2.6M189.71,433.50h2.6" stroke="#9a1c34" stroke-width="0.8" fill="none"/>
<path d="M201.08,420.75V426.75M199.78,420.75h2.6M199.78,426.75h2.6" stroke="#9a1c34" stroke-width="0.8" fill="none"/>
<path d="M211.15,422.75V428.75M209.85,422.75h2.6M209.85,428.75h2.6" stroke="#9a1c34" stroke-width="0.8" fill="none"/>
<path d="M221.22,426.25V432.25M219.92,426.25h2.6M219.92,432.25h2.6" stroke="#9a1c34" stroke-width="0.8" fill="none"/>
<path d="M231.29,424.00V430.00M229.99,424.00h2.6M229.99,430.00h2.6" stroke="#9a1c34" stroke-width="0.8" fill="none"/>
<path d="M241.36,428.00V438.00M240.06,428.00h2.6M240.06,438.00h2.6" stroke="#9a1c34" stroke-width="0.8" fill="none"/>
<polyline points="60.10,448.65 70.17,451.00 80.24,456.35 90.31,457.30 100.38,456.35 110.45,449.25 120.52,443.00 130.59,439.50 140.66,437.50 150.73,430.50 160.80,431.75 170.87,431.50 180.94,425.00 191.01,430.50 201.08,423.75 211.15,425.75 221.22,429.25 231.29,427.00 241.36,433.00" fill="none" stroke="#9a1c34" stroke-width="1.45" stroke-linejoin="round"/>
<circle cx="60.10" cy="448.65" r="1.5" fill="#9a1c34"/>
<circle cx="70.17" cy="451.00" r="1.5" fill="#9a1c34"/>
<circle cx="80.24" cy="456.35" r="1.5" fill="#9a1c34"/>
<circle cx="90.31" cy="457.30" r="1.5" fill="#9a1c34"/>
<circle cx="100.38" cy="456.35" r="1.5" fill="#9a1c34"/>
<circle cx="110.45" cy="449.25" r="1.5" fill="#9a1c34"/>
<circle cx="120.52" cy="443.00" r="1.5" fill="#9a1c34"/>
<circle cx="130.59" cy="439.50" r="1.5" fill="#9a1c34"/>
<circle cx="140.66" cy="437.50" r="1.5" fill="#9a1c34"/>
<circle cx="150.73" cy="430.50" r="1.5" fill="#9a1c34"/>
<circle cx="160.80" cy="431.75" r="1.5" fill="#9a1c34"/>
<circle cx="170.87" cy="431.50" r="1.5" fill="#9a1c34"/>
<circle cx="180.94" cy="425.00" r="1.5" fill="#9a1c34"/>
<circle cx="191.01" cy="430.50" r="1.5" fill="#9a1c34"/>
<circle cx="201.08" cy="423.75" r="1.5" fill="#9a1c34"/>
<circle cx="211.15" cy="425.75" r="1.5" fill="#9a1c34"/>
<circle cx="221.22" cy="429.25" r="1.5" fill="#9a1c34"/>
<circle cx="231.29" cy="427.00" r="1.5" fill="#9a1c34"/>
<circle cx="241.36" cy="433.00" r="1.5" fill="#9a1c34"/>
<path d="M60.10,447.50V455.50M58.80,447.50h2.6M58.80,455.50h2.6" stroke="#33507a" stroke-width="0.8" fill="none"/>
<path d="M70.17,447.60V453.60M68.87,447.60h2.6M68.87,453.60h2.6" stroke="#33507a" stroke-width="0.8" fill="none"/>
<path d="M80.24,453.85V458.85M78.94,453.85h2.6M78.94,458.85h2.6" stroke="#33507a" stroke-width="0.8" fill="none"/>
<path d="M90.31,454.80V459.80M89.01,454.80h2.6M89.01,459.80h2.6" stroke="#33507a" stroke-width="0.8" fill="none"/>
<path d="M100.38,453.85V458.85M99.08,453.85h2.6M99.08,458.85h2.6" stroke="#33507a" stroke-width="0.8" fill="none"/>
<path d="M110.45,444.50V450.50M109.15,444.50h2.6M109.15,450.50h2.6" stroke="#33507a" stroke-width="0.8" fill="none"/>
<path d="M120.52,436.50V442.50M119.22,436.50h2.6M119.22,442.50h2.6" stroke="#33507a" stroke-width="0.8" fill="none"/>
<path d="M130.59,434.25V439.25M129.29,434.25h2.6M129.29,439.25h2.6" stroke="#33507a" stroke-width="0.8" fill="none"/>
<path d="M140.66,432.50V437.50M139.36,432.50h2.6M139.36,437.50h2.6" stroke="#33507a" stroke-width="0.8" fill="none"/>
<path d="M150.73,427.50V433.50M149.43,427.50h2.6M149.43,433.50h2.6" stroke="#33507a" stroke-width="0.8" fill="none"/>
<path d="M160.80,425.00V430.00M159.50,425.00h2.6M159.50,430.00h2.6" stroke="#33507a" stroke-width="0.8" fill="none"/>
<path d="M170.87,426.25V432.25M169.57,426.25h2.6M169.57,432.25h2.6" stroke="#33507a" stroke-width="0.8" fill="none"/>
<path d="M180.94,425.25V431.25M179.64,425.25h2.6M179.64,431.25h2.6" stroke="#33507a" stroke-width="0.8" fill="none"/>
<path d="M191.01,425.75V431.75M189.71,425.75h2.6M189.71,431.75h2.6" stroke="#33507a" stroke-width="0.8" fill="none"/>
<path d="M201.08,421.50V427.50M199.78,421.50h2.6M199.78,427.50h2.6" stroke="#33507a" stroke-width="0.8" fill="none"/>
<path d="M211.15,423.25V429.25M209.85,423.25h2.6M209.85,429.25h2.6" stroke="#33507a" stroke-width="0.8" fill="none"/>
<path d="M221.22,422.75V428.75M219.92,422.75h2.6M219.92,428.75h2.6" stroke="#33507a" stroke-width="0.8" fill="none"/>
<path d="M231.29,423.25V429.25M229.99,423.25h2.6M229.99,429.25h2.6" stroke="#33507a" stroke-width="0.8" fill="none"/>
<path d="M241.36,419.50V430.50M240.06,419.50h2.6M240.06,430.50h2.6" stroke="#33507a" stroke-width="0.8" fill="none"/>
<polyline points="60.10,451.50 70.17,450.60 80.24,456.35 90.31,457.30 100.38,456.35 110.45,447.50 120.52,439.50 130.59,436.75 140.66,435.00 150.73,430.50 160.80,427.50 170.87,429.25 180.94,428.25 191.01,428.75 201.08,424.50 211.15,426.25 221.22,425.75 231.29,426.25 241.36,425.00" fill="none" stroke="#33507a" stroke-width="1.45" stroke-linejoin="round"/>
<circle cx="60.10" cy="451.50" r="1.5" fill="#33507a"/>
<circle cx="70.17" cy="450.60" r="1.5" fill="#33507a"/>
<circle cx="80.24" cy="456.35" r="1.5" fill="#33507a"/>
<circle cx="90.31" cy="457.30" r="1.5" fill="#33507a"/>
<circle cx="100.38" cy="456.35" r="1.5" fill="#33507a"/>
<circle cx="110.45" cy="447.50" r="1.5" fill="#33507a"/>
<circle cx="120.52" cy="439.50" r="1.5" fill="#33507a"/>
<circle cx="130.59" cy="436.75" r="1.5" fill="#33507a"/>
<circle cx="140.66" cy="435.00" r="1.5" fill="#33507a"/>
<circle cx="150.73" cy="430.50" r="1.5" fill="#33507a"/>
<circle cx="160.80" cy="427.50" r="1.5" fill="#33507a"/>
<circle cx="170.87" cy="429.25" r="1.5" fill="#33507a"/>
<circle cx="180.94" cy="428.25" r="1.5" fill="#33507a"/>
<circle cx="191.01" cy="428.75" r="1.5" fill="#33507a"/>
<circle cx="201.08" cy="424.50" r="1.5" fill="#33507a"/>
<circle cx="211.15" cy="426.25" r="1.5" fill="#33507a"/>
<circle cx="221.22" cy="425.75" r="1.5" fill="#33507a"/>
<circle cx="231.29" cy="426.25" r="1.5" fill="#33507a"/>
<circle cx="241.36" cy="425.00" r="1.5" fill="#33507a"/>
<text transform="translate(63.25,500.30) rotate(-45)" x="0" y="0" font-size="7.9" text-anchor="end" textLength="3.95" lengthAdjust="spacingAndGlyphs" style="stroke-width:0.2px">0</text>
<text transform="translate(73.36,500.27) rotate(-45)" x="0" y="0" font-size="7.9" text-anchor="end" textLength="3.95" lengthAdjust="spacingAndGlyphs" style="stroke-width:0.2px">1</text>
<text transform="translate(83.47,500.23) rotate(-45)" x="0" y="0" font-size="7.9" text-anchor="end" textLength="3.95" lengthAdjust="spacingAndGlyphs" style="stroke-width:0.2px">2</text>
<text transform="translate(93.58,500.20) rotate(-45)" x="0" y="0" font-size="7.9" text-anchor="end" textLength="3.95" lengthAdjust="spacingAndGlyphs" style="stroke-width:0.2px">3</text>
<text transform="translate(103.69,500.17) rotate(-45)" x="0" y="0" font-size="7.9" text-anchor="end" textLength="3.95" lengthAdjust="spacingAndGlyphs" style="stroke-width:0.2px">4</text>
<text transform="translate(113.79,500.13) rotate(-45)" x="0" y="0" font-size="7.9" text-anchor="end" textLength="3.95" lengthAdjust="spacingAndGlyphs" style="stroke-width:0.2px">8</text>
<text transform="translate(123.90,500.10) rotate(-45)" x="0" y="0" font-size="7.9" text-anchor="end" textLength="7.91" lengthAdjust="spacingAndGlyphs" style="stroke-width:0.2px">12</text>
<text transform="translate(134.01,500.07) rotate(-45)" x="0" y="0" font-size="7.9" text-anchor="end" textLength="7.91" lengthAdjust="spacingAndGlyphs" style="stroke-width:0.2px">16</text>
<text transform="translate(144.12,500.03) rotate(-45)" x="0" y="0" font-size="7.9" text-anchor="end" textLength="7.91" lengthAdjust="spacingAndGlyphs" style="stroke-width:0.2px">24</text>
<text transform="translate(154.23,500.00) rotate(-45)" x="0" y="0" font-size="7.9" text-anchor="end" textLength="7.91" lengthAdjust="spacingAndGlyphs" style="stroke-width:0.2px">36</text>
<text transform="translate(164.34,499.97) rotate(-45)" x="0" y="0" font-size="7.9" text-anchor="end" textLength="7.91" lengthAdjust="spacingAndGlyphs" style="stroke-width:0.2px">48</text>
<text transform="translate(174.45,499.93) rotate(-45)" x="0" y="0" font-size="7.9" text-anchor="end" textLength="7.91" lengthAdjust="spacingAndGlyphs" style="stroke-width:0.2px">60</text>
<text transform="translate(184.56,499.90) rotate(-45)" x="0" y="0" font-size="7.9" text-anchor="end" textLength="7.91" lengthAdjust="spacingAndGlyphs" style="stroke-width:0.2px">72</text>
<text transform="translate(194.67,499.87) rotate(-45)" x="0" y="0" font-size="7.9" text-anchor="end" textLength="7.91" lengthAdjust="spacingAndGlyphs" style="stroke-width:0.2px">84</text>
<text transform="translate(204.77,499.83) rotate(-45)" x="0" y="0" font-size="7.9" text-anchor="end" textLength="7.91" lengthAdjust="spacingAndGlyphs" style="stroke-width:0.2px">96</text>
<text transform="translate(214.88,499.80) rotate(-45)" x="0" y="0" font-size="7.9" text-anchor="end" textLength="11.86" lengthAdjust="spacingAndGlyphs" style="stroke-width:0.2px">120</text>
<text transform="translate(224.99,499.77) rotate(-45)" x="0" y="0" font-size="7.9" text-anchor="end" textLength="11.86" lengthAdjust="spacingAndGlyphs" style="stroke-width:0.2px">144</text>
<text transform="translate(235.10,499.73) rotate(-45)" x="0" y="0" font-size="7.9" text-anchor="end" textLength="11.86" lengthAdjust="spacingAndGlyphs" style="stroke-width:0.2px">168</text>
<text transform="translate(245.21,499.70) rotate(-45)" x="0" y="0" font-size="7.9" text-anchor="end" textLength="11.86" lengthAdjust="spacingAndGlyphs" style="stroke-width:0.2px">192</text>
<text x="125.00" y="518.30" font-size="9.6" textLength="51.03" lengthAdjust="spacingAndGlyphs">Time, weeks</text>
<text transform="translate(31.90,477.52) rotate(-90)" x="0" y="0" font-size="9.8" textLength="77.95" lengthAdjust="spacingAndGlyphs">Hemoglobin, g/dL</text>
<text x="269.83" y="370.90" font-size="12.7" textLength="6.12" lengthAdjust="spacingAndGlyphs" style="stroke-width:0.22px">F</text>
<text x="375.48" y="387.40" font-size="9.5" textLength="36.22" lengthAdjust="spacingAndGlyphs">Platelets</text>
<line x1="314.95" y1="390.75" x2="314.95" y2="489.00" stroke="#1c1c1c" stroke-width="1.15"/>
<line x1="311.65" y1="393.00" x2="314.95" y2="393.00" stroke="#1c1c1c" stroke-width="1.0"/>
<text x="308.30" y="395.80" font-size="8.6" text-anchor="end" textLength="13.06" lengthAdjust="spacingAndGlyphs">200</text>
<line x1="311.65" y1="424.80" x2="314.95" y2="424.80" stroke="#1c1c1c" stroke-width="1.0"/>
<text x="308.30" y="427.60" font-size="8.6" text-anchor="end" textLength="13.06" lengthAdjust="spacingAndGlyphs">150</text>
<line x1="311.65" y1="456.60" x2="314.95" y2="456.60" stroke="#1c1c1c" stroke-width="1.0"/>
<text x="308.30" y="459.40" font-size="8.6" text-anchor="end" textLength="13.06" lengthAdjust="spacingAndGlyphs">100</text>
<line x1="311.65" y1="488.40" x2="314.95" y2="488.40" stroke="#1c1c1c" stroke-width="1.0"/>
<text x="308.30" y="491.20" font-size="8.6" text-anchor="end" textLength="8.70" lengthAdjust="spacingAndGlyphs">50</text>
<line x1="317" y1="431.45" x2="507" y2="431.45" stroke="#222" stroke-width="1.0" stroke-dasharray="1,1.77"/>
<line x1="314.35" y1="488.40" x2="506.00" y2="488.40" stroke="#1c1c1c" stroke-width="1.15"/>
<line x1="321.50" y1="488.40" x2="321.50" y2="491.60" stroke="#1c1c1c" stroke-width="1.0"/>
<line x1="331.36" y1="488.40" x2="331.36" y2="491.60" stroke="#1c1c1c" stroke-width="1.0"/>
<line x1="341.22" y1="488.40" x2="341.22" y2="491.60" stroke="#1c1c1c" stroke-width="1.0"/>
<line x1="351.08" y1="488.40" x2="351.08" y2="491.60" stroke="#1c1c1c" stroke-width="1.0"/>
<line x1="360.94" y1="488.40" x2="360.94" y2="491.60" stroke="#1c1c1c" stroke-width="1.0"/>
<line x1="370.80" y1="488.40" x2="370.80" y2="491.60" stroke="#1c1c1c" stroke-width="1.0"/>
<line x1="380.66" y1="488.40" x2="380.66" y2="491.60" stroke="#1c1c1c" stroke-width="1.0"/>
<line x1="390.52" y1="488.40" x2="390.52" y2="491.60" stroke="#1c1c1c" stroke-width="1.0"/>
<line x1="400.38" y1="488.40" x2="400.38" y2="491.60" stroke="#1c1c1c" stroke-width="1.0"/>
<line x1="410.24" y1="488.40" x2="410.24" y2="491.60" stroke="#1c1c1c" stroke-width="1.0"/>
<line x1="420.10" y1="488.40" x2="420.10" y2="491.60" stroke="#1c1c1c" stroke-width="1.0"/>
<line x1="429.96" y1="488.40" x2="429.96" y2="491.60" stroke="#1c1c1c" stroke-width="1.0"/>
<line x1="439.82" y1="488.40" x2="439.82" y2="491.60" stroke="#1c1c1c" stroke-width="1.0"/>
<line x1="449.68" y1="488.40" x2="449.68" y2="491.60" stroke="#1c1c1c" stroke-width="1.0"/>
<line x1="459.54" y1="488.40" x2="459.54" y2="491.60" stroke="#1c1c1c" stroke-width="1.0"/>
<line x1="469.40" y1="488.40" x2="469.40" y2="491.60" stroke="#1c1c1c" stroke-width="1.0"/>
<line x1="479.26" y1="488.40" x2="479.26" y2="491.60" stroke="#1c1c1c" stroke-width="1.0"/>
<line x1="489.12" y1="488.40" x2="489.12" y2="491.60" stroke="#1c1c1c" stroke-width="1.0"/>
<line x1="498.98" y1="488.40" x2="498.98" y2="491.60" stroke="#1c1c1c" stroke-width="1.0"/>
<path d="M321.50,427.50V435.50M320.20,427.50h2.6M320.20,435.50h2.6" stroke="#9a1c34" stroke-width="0.8" fill="none"/>
<path d="M331.36,434.75V441.75M330.06,434.75h2.6M330.06,441.75h2.6" stroke="#9a1c34" stroke-width="0.8" fill="none"/>
<path d="M341.22,424.50V431.50M339.92,424.50h2.6M339.92,431.50h2.6" stroke="#9a1c34" stroke-width="0.8" fill="none"/>
<path d="M351.08,423.25V430.25M349.78,423.25h2.6M349.78,430.25h2.6" stroke="#9a1c34" stroke-width="0.8" fill="none"/>
<path d="M360.94,423.25V430.25M359.64,423.25h2.6M359.64,430.25h2.6" stroke="#9a1c34" stroke-width="0.8" fill="none"/>
<path d="M370.80,418.80V425.80M369.50,418.80h2.6M369.50,425.80h2.6" stroke="#9a1c34" stroke-width="0.8" fill="none"/>
<path d="M380.66,420.70V427.70M379.36,420.70h2.6M379.36,427.70h2.6" stroke="#9a1c34" stroke-width="0.8" fill="none"/>
<path d="M390.52,417.70V424.70M389.22,417.70h2.6M389.22,424.70h2.6" stroke="#9a1c34" stroke-width="0.8" fill="none"/>
<path d="M400.38,417.70V424.70M399.08,417.70h2.6M399.08,424.70h2.6" stroke="#9a1c34" stroke-width="0.8" fill="none"/>
<path d="M410.24,415.30V422.30M408.94,415.30h2.6M408.94,422.30h2.6" stroke="#9a1c34" stroke-width="0.8" fill="none"/>
<path d="M420.10,416.60V423.60M418.80,416.60h2.6M418.80,423.60h2.6" stroke="#9a1c34" stroke-width="0.8" fill="none"/>
<path d="M429.96,414.50V421.50M428.66,414.50h2.6M428.66,421.50h2.6" stroke="#9a1c34" stroke-width="0.8" fill="none"/>
<path d="M439.82,414.00V421.00M438.52,414.00h2.6M438.52,421.00h2.6" stroke="#9a1c34" stroke-width="0.8" fill="none"/>
<path d="M449.68,411.70V420.70M448.38,411.70h2.6M448.38,420.70h2.6" stroke="#9a1c34" stroke-width="0.8" fill="none"/>
<path d="M459.54,413.30V421.30M458.24,413.30h2.6M458.24,421.30h2.6" stroke="#9a1c34" stroke-width="0.8" fill="none"/>
<path d="M469.40,412.70V419.70M468.10,412.70h2.6M468.10,419.70h2.6" stroke="#9a1c34" stroke-width="0.8" fill="none"/>
<path d="M479.26,418.70V426.70M477.96,418.70h2.6M477.96,426.70h2.6" stroke="#9a1c34" stroke-width="0.8" fill="none"/>
<path d="M489.12,416.40V423.40M487.82,416.40h2.6M487.82,423.40h2.6" stroke="#9a1c34" stroke-width="0.8" fill="none"/>
<path d="M498.98,417.00V431.00M497.68,417.00h2.6M497.68,431.00h2.6" stroke="#9a1c34" stroke-width="0.8" fill="none"/>
<polyline points="321.50,431.50 331.36,438.25 341.22,428.00 351.08,426.75 360.94,426.75 370.80,422.30 380.66,424.20 390.52,421.20 400.38,421.20 410.24,418.80 420.10,420.10 429.96,418.00 439.82,417.50 449.68,416.20 459.54,417.30 469.40,416.20 479.26,422.70 489.12,419.90 498.98,424.00" fill="none" stroke="#9a1c34" stroke-width="1.45" stroke-linejoin="round"/>
<circle cx="321.50" cy="431.50" r="1.5" fill="#9a1c34"/>
<circle cx="331.36" cy="438.25" r="1.5" fill="#9a1c34"/>
<circle cx="341.22" cy="428.00" r="1.5" fill="#9a1c34"/>
<circle cx="351.08" cy="426.75" r="1.5" fill="#9a1c34"/>
<circle cx="360.94" cy="426.75" r="1.5" fill="#9a1c34"/>
<circle cx="370.80" cy="422.30" r="1.5" fill="#9a1c34"/>
<circle cx="380.66" cy="424.20" r="1.5" fill="#9a1c34"/>
<circle cx="390.52" cy="421.20" r="1.5" fill="#9a1c34"/>
<circle cx="400.38" cy="421.20" r="1.5" fill="#9a1c34"/>
<circle cx="410.24" cy="418.80" r="1.5" fill="#9a1c34"/>
<circle cx="420.10" cy="420.10" r="1.5" fill="#9a1c34"/>
<circle cx="429.96" cy="418.00" r="1.5" fill="#9a1c34"/>
<circle cx="439.82" cy="417.50" r="1.5" fill="#9a1c34"/>
<circle cx="449.68" cy="416.20" r="1.5" fill="#9a1c34"/>
<circle cx="459.54" cy="417.30" r="1.5" fill="#9a1c34"/>
<circle cx="469.40" cy="416.20" r="1.5" fill="#9a1c34"/>
<circle cx="479.26" cy="422.70" r="1.5" fill="#9a1c34"/>
<circle cx="489.12" cy="419.90" r="1.5" fill="#9a1c34"/>
<circle cx="498.98" cy="424.00" r="1.5" fill="#9a1c34"/>
<path d="M321.50,430.40V438.40M320.20,430.40h2.6M320.20,438.40h2.6" stroke="#33507a" stroke-width="0.8" fill="none"/>
<path d="M331.36,434.45V442.05M330.06,434.45h2.6M330.06,442.05h2.6" stroke="#33507a" stroke-width="0.8" fill="none"/>
<path d="M341.22,422.80V431.80M339.92,422.80h2.6M339.92,431.80h2.6" stroke="#33507a" stroke-width="0.8" fill="none"/>
<path d="M351.08,423.70V431.70M349.78,423.70h2.6M349.78,431.70h2.6" stroke="#33507a" stroke-width="0.8" fill="none"/>
<path d="M360.94,422.30V430.30M359.64,422.30h2.6M359.64,430.30h2.6" stroke="#33507a" stroke-width="0.8" fill="none"/>
<path d="M370.80,417.00V425.00M369.50,417.00h2.6M369.50,425.00h2.6" stroke="#33507a" stroke-width="0.8" fill="none"/>
<path d="M380.66,415.40V423.40M379.36,415.40h2.6M379.36,423.40h2.6" stroke="#33507a" stroke-width="0.8" fill="none"/>
<path d="M390.52,411.00V420.00M389.22,411.00h2.6M389.22,420.00h2.6" stroke="#33507a" stroke-width="0.8" fill="none"/>
<path d="M400.38,417.10V424.10M399.08,417.10h2.6M399.08,424.10h2.6" stroke="#33507a" stroke-width="0.8" fill="none"/>
<path d="M410.24,414.00V421.00M408.94,414.00h2.6M408.94,421.00h2.6" stroke="#33507a" stroke-width="0.8" fill="none"/>
<path d="M420.10,416.40V423.40M418.80,416.40h2.6M418.80,423.40h2.6" stroke="#33507a" stroke-width="0.8" fill="none"/>
<path d="M429.96,414.00V421.00M428.66,414.00h2.6M428.66,421.00h2.6" stroke="#33507a" stroke-width="0.8" fill="none"/>
<path d="M439.82,414.00V421.00M438.52,414.00h2.6M438.52,421.00h2.6" stroke="#33507a" stroke-width="0.8" fill="none"/>
<path d="M449.68,412.75V420.75M448.38,412.75h2.6M448.38,420.75h2.6" stroke="#33507a" stroke-width="0.8" fill="none"/>
<path d="M459.54,415.30V422.30M458.24,415.30h2.6M458.24,422.30h2.6" stroke="#33507a" stroke-width="0.8" fill="none"/>
<path d="M469.40,406.60V416.60M468.10,406.60h2.6M468.10,416.60h2.6" stroke="#33507a" stroke-width="0.8" fill="none"/>
<path d="M479.26,403.80V416.80M477.96,403.80h2.6M477.96,416.80h2.6" stroke="#33507a" stroke-width="0.8" fill="none"/>
<path d="M489.12,413.50V422.50M487.82,413.50h2.6M487.82,422.50h2.6" stroke="#33507a" stroke-width="0.8" fill="none"/>
<path d="M498.98,416.75V430.75M497.68,416.75h2.6M497.68,430.75h2.6" stroke="#33507a" stroke-width="0.8" fill="none"/>
<polyline points="321.50,434.40 331.36,438.25 341.22,427.30 351.08,427.70 360.94,426.30 370.80,421.00 380.66,419.40 390.52,415.50 400.38,420.60 410.24,417.50 420.10,419.90 429.96,417.50 439.82,417.50 449.68,416.75 459.54,418.80 469.40,411.60 479.26,410.30 489.12,418.00 498.98,423.75" fill="none" stroke="#33507a" stroke-width="1.45" stroke-linejoin="round"/>
<circle cx="321.50" cy="434.40" r="1.5" fill="#33507a"/>
<circle cx="331.36" cy="438.25" r="1.5" fill="#33507a"/>
<circle cx="341.22" cy="427.30" r="1.5" fill="#33507a"/>
<circle cx="351.08" cy="427.70" r="1.5" fill="#33507a"/>
<circle cx="360.94" cy="426.30" r="1.5" fill="#33507a"/>
<circle cx="370.80" cy="421.00" r="1.5" fill="#33507a"/>
<circle cx="380.66" cy="419.40" r="1.5" fill="#33507a"/>
<circle cx="390.52" cy="415.50" r="1.5" fill="#33507a"/>
<circle cx="400.38" cy="420.60" r="1.5" fill="#33507a"/>
<circle cx="410.24" cy="417.50" r="1.5" fill="#33507a"/>
<circle cx="420.10" cy="419.90" r="1.5" fill="#33507a"/>
<circle cx="429.96" cy="417.50" r="1.5" fill="#33507a"/>
<circle cx="439.82" cy="417.50" r="1.5" fill="#33507a"/>
<circle cx="449.68" cy="416.75" r="1.5" fill="#33507a"/>
<circle cx="459.54" cy="418.80" r="1.5" fill="#33507a"/>
<circle cx="469.40" cy="411.60" r="1.5" fill="#33507a"/>
<circle cx="479.26" cy="410.30" r="1.5" fill="#33507a"/>
<circle cx="489.12" cy="418.00" r="1.5" fill="#33507a"/>
<circle cx="498.98" cy="423.75" r="1.5" fill="#33507a"/>
<text transform="translate(325.15,499.80) rotate(-45)" x="0" y="0" font-size="7.9" text-anchor="end" textLength="3.95" lengthAdjust="spacingAndGlyphs" style="stroke-width:0.2px">0</text>
<text transform="translate(335.20,499.72) rotate(-45)" x="0" y="0" font-size="7.9" text-anchor="end" textLength="3.95" lengthAdjust="spacingAndGlyphs" style="stroke-width:0.2px">1</text>
<text transform="translate(345.25,499.64) rotate(-45)" x="0" y="0" font-size="7.9" text-anchor="end" textLength="3.95" lengthAdjust="spacingAndGlyphs" style="stroke-width:0.2px">2</text>
<text transform="translate(355.30,499.57) rotate(-45)" x="0" y="0" font-size="7.9" text-anchor="end" textLength="3.95" lengthAdjust="spacingAndGlyphs" style="stroke-width:0.2px">3</text>
<text transform="translate(365.35,499.49) rotate(-45)" x="0" y="0" font-size="7.9" text-anchor="end" textLength="3.95" lengthAdjust="spacingAndGlyphs" style="stroke-width:0.2px">4</text>
<text transform="translate(375.39,499.41) rotate(-45)" x="0" y="0" font-size="7.9" text-anchor="end" textLength="3.95" lengthAdjust="spacingAndGlyphs" style="stroke-width:0.2px">8</text>
<text transform="translate(385.44,499.33) rotate(-45)" x="0" y="0" font-size="7.9" text-anchor="end" textLength="7.91" lengthAdjust="spacingAndGlyphs" style="stroke-width:0.2px">12</text>
<text transform="translate(395.49,499.25) rotate(-45)" x="0" y="0" font-size="7.9" text-anchor="end" textLength="7.91" lengthAdjust="spacingAndGlyphs" style="stroke-width:0.2px">16</text>
<text transform="translate(405.54,499.18) rotate(-45)" x="0" y="0" font-size="7.9" text-anchor="end" textLength="7.91" lengthAdjust="spacingAndGlyphs" style="stroke-width:0.2px">24</text>
<text transform="translate(415.59,499.10) rotate(-45)" x="0" y="0" font-size="7.9" text-anchor="end" textLength="7.91" lengthAdjust="spacingAndGlyphs" style="stroke-width:0.2px">36</text>
<text transform="translate(425.64,499.02) rotate(-45)" x="0" y="0" font-size="7.9" text-anchor="end" textLength="7.91" lengthAdjust="spacingAndGlyphs" style="stroke-width:0.2px">48</text>
<text transform="translate(435.69,498.94) rotate(-45)" x="0" y="0" font-size="7.9" text-anchor="end" textLength="7.91" lengthAdjust="spacingAndGlyphs" style="stroke-width:0.2px">60</text>
<text transform="translate(445.74,498.87) rotate(-45)" x="0" y="0" font-size="7.9" text-anchor="end" textLength="7.91" lengthAdjust="spacingAndGlyphs" style="stroke-width:0.2px">72</text>
<text transform="translate(455.79,498.79) rotate(-45)" x="0" y="0" font-size="7.9" text-anchor="end" textLength="7.91" lengthAdjust="spacingAndGlyphs" style="stroke-width:0.2px">84</text>
<text transform="translate(465.83,498.71) rotate(-45)" x="0" y="0" font-size="7.9" text-anchor="end" textLength="7.91" lengthAdjust="spacingAndGlyphs" style="stroke-width:0.2px">96</text>
<text transform="translate(475.88,498.63) rotate(-45)" x="0" y="0" font-size="7.9" text-anchor="end" textLength="11.86" lengthAdjust="spacingAndGlyphs" style="stroke-width:0.2px">120</text>
<text transform="translate(485.93,498.55) rotate(-45)" x="0" y="0" font-size="7.9" text-anchor="end" textLength="11.86" lengthAdjust="spacingAndGlyphs" style="stroke-width:0.2px">144</text>
<text transform="translate(495.98,498.48) rotate(-45)" x="0" y="0" font-size="7.9" text-anchor="end" textLength="11.86" lengthAdjust="spacingAndGlyphs" style="stroke-width:0.2px">168</text>
<text transform="translate(506.03,498.40) rotate(-45)" x="0" y="0" font-size="7.9" text-anchor="end" textLength="11.86" lengthAdjust="spacingAndGlyphs" style="stroke-width:0.2px">192</text>
<text x="384.50" y="518.30" font-size="9.6" textLength="51.13" lengthAdjust="spacingAndGlyphs">Time, weeks</text>
<text transform="translate(288.30,469.66) rotate(-90)" x="0" y="0" font-size="9.8" textLength="60.12" lengthAdjust="spacingAndGlyphs">Platelets, K/μL</text>
<rect x="0" y="0" width="1" height="528" fill="#454545"/>
<rect x="1" y="0" width="1" height="528" fill="#a0a0a0"/>
<rect x="519" y="0" width="1" height="528" fill="#505050"/>
<rect x="518" y="0" width="1" height="528" fill="#c0c0c0"/>
<rect x="0" y="0" width="520" height="1" fill="#080808"/>
<rect x="0" y="1" width="520" height="1" fill="#ececec"/>
<rect x="0" y="527" width="520" height="1" fill="#080808"/>
<rect x="0" y="526.5" width="520" height="0.5" fill="#808080"/>
</svg>
</body></html>
